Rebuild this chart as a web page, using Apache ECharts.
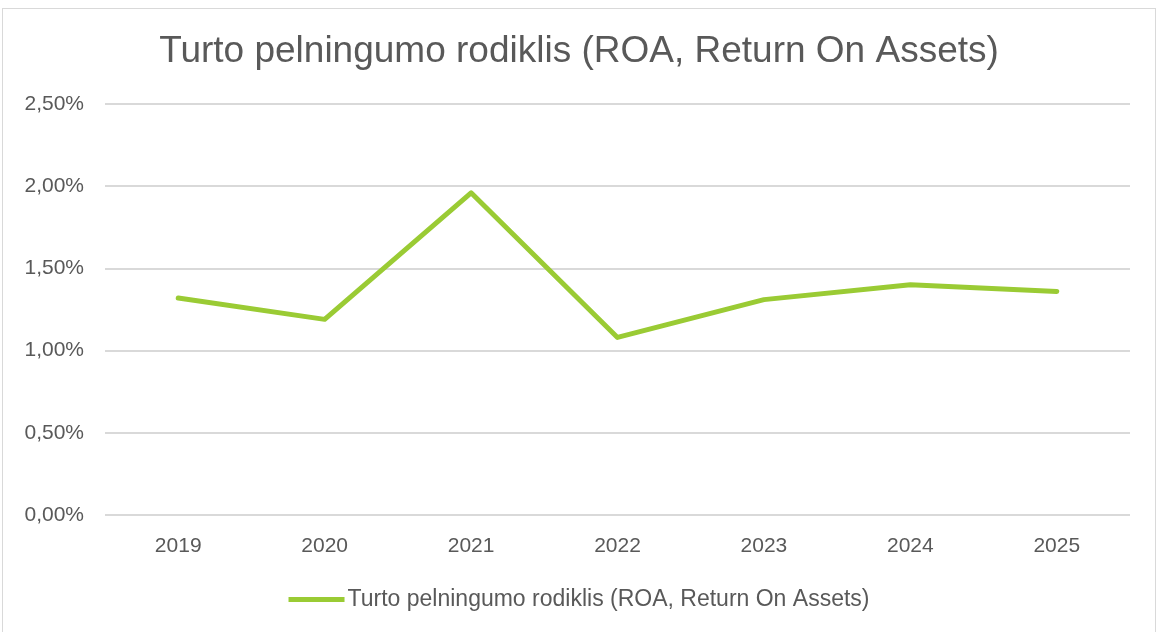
<!DOCTYPE html>
<html><head><meta charset="utf-8">
<script src="https://cdn.jsdelivr.net/npm/echarts@6/dist/echarts.min.js"></script>
<style>
html,body{margin:0;padding:0;background:#fff;}
#frame{position:absolute;left:2px;top:8px;width:1154px;height:640px;border:1px solid #d9d9d9;box-sizing:border-box;}
#chart{position:absolute;left:0;top:0;width:1158px;height:632px;}
</style></head>
<body>
<div id="frame"></div>
<div id="chart"></div>
<script>
const title = 'Turto pelningumo rodiklis (ROA, Return On Assets)';
const seriesName = 'Turto pelningumo rodiklis (ROA, Return On Assets)';
const years = ['2019','2020','2021','2022','2023','2024','2025'];
const roa = [1.32, 1.19, 1.96, 1.08, 1.31, 1.40, 1.36];

const font = '"Liberation Sans", sans-serif';
const chart = echarts.init(document.getElementById('chart'));
chart.setOption({
  backgroundColor: 'transparent',
  textStyle: {fontFamily: font},
  title: {
    text: title, left: 'center', top: 28,
    textStyle: {fontFamily: font, fontSize: 37, fontWeight: 'normal', color: '#595959'}
  },
  legend: {
    data: [{name: seriesName, icon: 'rect'}],
    bottom: 16, left: 'center',
    itemWidth: 56, itemHeight: 5, itemGap: 3,
    textStyle: {fontFamily: font, fontSize: 23, color: '#595959', padding: [0,0,0,-2]}
  },
  grid: {left: 105, right: 28, top: 104, bottom: 117, containLabel: false},
  xAxis: {
    type: 'category', data: years, boundaryGap: true,
    axisLine: {show: false}, axisTick: {show: false},
    axisLabel: {fontFamily: font, fontSize: 21, color: '#595959', margin: 21},
  },
  yAxis: {
    type: 'value', min: 0, max: 2.5, interval: 0.5,
    axisLine: {show: false}, axisTick: {show: false},
    axisLabel: {fontFamily: font, fontSize: 21, color: '#595959', margin: 21,
      formatter: v => v.toFixed(2).replace('.', ',') + '%'},
    splitLine: {lineStyle: {color: '#d9d9d9', width: 2}}
  },
  series: [{
    name: seriesName, type: 'line', data: roa,
    symbol: 'none', smooth: false,
    lineStyle: {color: '#9ACB34', width: 5, cap: 'round', join: 'round'},
    itemStyle: {color: '#9ACB34'}
  }]
});
</script>
</body></html>
